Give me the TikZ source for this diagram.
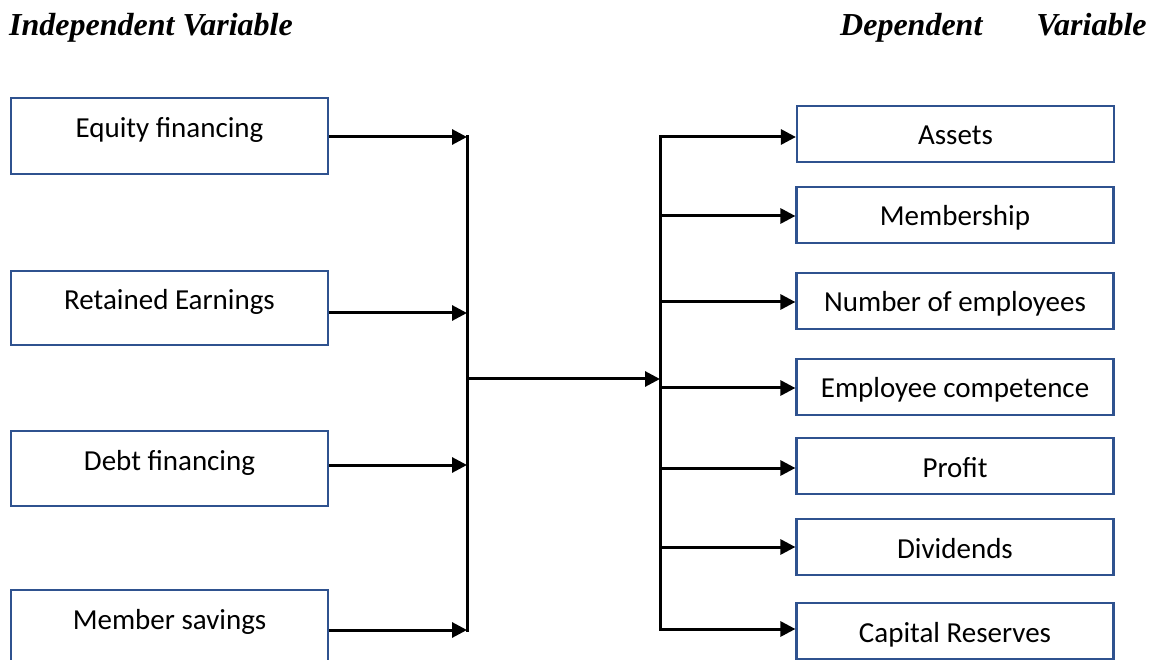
\documentclass[tikz,border=0pt]{standalone}
\usepackage{fontspec}
\setmainfont{Carlito}
\newfontfamily\headfont{Liberation Serif}
\usetikzlibrary{arrows.meta}
\definecolor{boxblue}{RGB}{47,82,143}
\begin{document}
\begin{tikzpicture}[x=1pt,y=-1pt,
  varbox/.style={draw=boxblue, line width=2.2pt, rectangle, inner sep=0pt,
    minimum width=317pt, font=\fontsize{29}{34}\selectfont},
  inbox/.style={varbox, text height=20pt, text depth=16pt},
  outbox/.style={varbox, minimum height=56pt, text height=22pt, text depth=0pt},
  heading/.style={font=\headfont\bfseries\itshape\fontsize{32}{38}\selectfont, anchor=base west, inner sep=0pt},
  bus/.style={line width=3pt},
  feed/.style={line width=3pt, -{Triangle[length=15pt,width=15pt]}}
]
\useasboundingbox (0,0) rectangle (1160,660);
\clip (0,0) rectangle (1160,660);

% headings
\node[heading] (hin) at (9,36) {Independent Variable};
\node[heading] (hout) at (840,36) {Dependent\hspace{54pt}Variable};

% independent variables
\node[inbox, minimum height=76pt] (L1) at (169.5,136) {Equity financing};
\node[inbox, minimum height=74pt] (L2) at (169.5,308) {Retained Earnings};
\node[inbox, minimum height=75pt] (L3) at (169.5,468.5) {Debt financing};
\node[inbox, minimum height=75pt] (L4) at (169.5,627.5) {Member savings};

% dependent variables
\node[outbox] (R1) at (955.5,134) {Assets};
\node[outbox] (R2) at (955,215) {Membership};
\node[outbox] (R3) at (955,301) {Number of employees};
\node[outbox] (R4) at (955,387) {Employee competence};
\node[outbox] (R5) at (955,466) {Profit};
\node[outbox] (R6) at (955,547) {Dividends};
\node[outbox] (R7) at (955,631) {Capital Reserves};

% collecting bus on the left
\coordinate (a1) at (467,137);
\coordinate (a2) at (467,313);
\coordinate (a3) at (467,465);
\coordinate (a4) at (467,630);
\coordinate (atop) at (467,135.5);
\coordinate (abot) at (467,631.5);
\coordinate (amid) at (467,379);

% distributing bus on the right
\coordinate (b1) at (660,137);
\coordinate (b2) at (660,216);
\coordinate (b3) at (660,302);
\coordinate (b4) at (660,388);
\coordinate (b5) at (660,468);
\coordinate (b6) at (660,547);
\coordinate (b7) at (660,629);
\coordinate (btop) at (660,135.5);
\coordinate (bbot) at (660,630.5);
\coordinate (bmid) at (660,379);

\draw[bus] (atop) -- (abot);
\draw[bus] (btop) -- (bbot);

\foreach \i in {1,...,4}
  \draw[feed] (a\i -| L\i.east) -- (a\i);

\draw[feed] (amid) -- (bmid);

\foreach \i in {1,...,7}
  \draw[feed] (b\i) -- (b\i -| R\i.west);
\end{tikzpicture}
\end{document}
